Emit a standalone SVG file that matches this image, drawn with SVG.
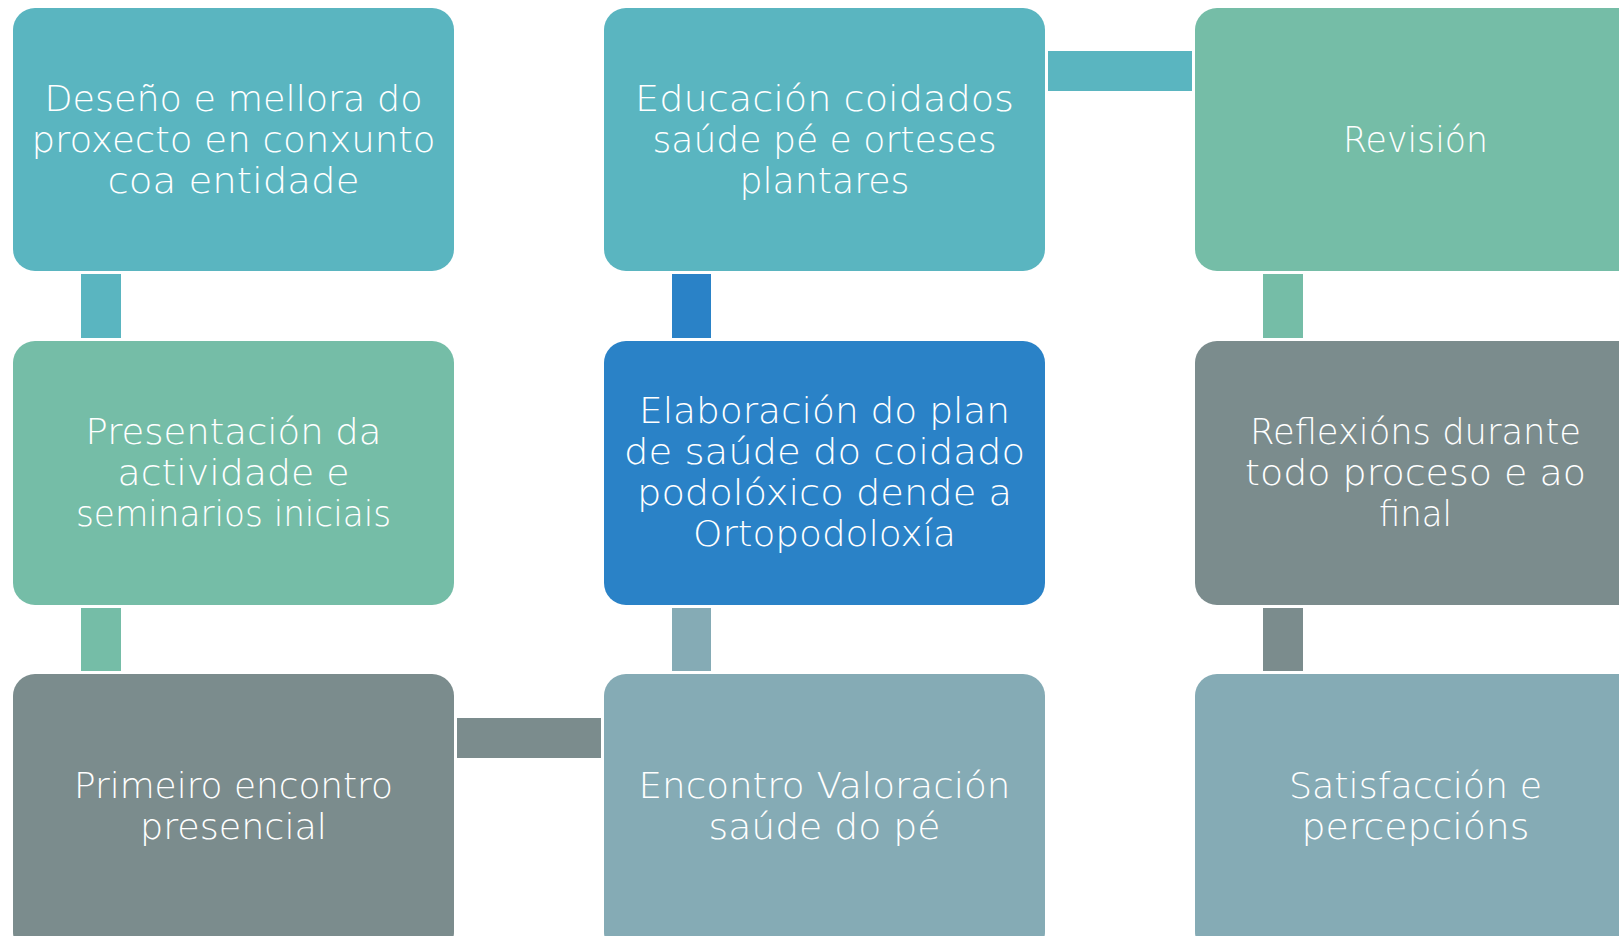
<svg xmlns="http://www.w3.org/2000/svg" width="1619" height="936" viewBox="0 0 1619 936">
<style>
.box{stroke:none}
.t{font-family:"DejaVu Sans","Liberation Sans",sans-serif;font-size:36px;font-weight:200;fill:#ffffff;text-anchor:middle}
.teal{fill:#5AB5C0}
.green{fill:#75BDA7}
.gray{fill:#7B8C8D}
.blue{fill:#2A82C7}
.steel{fill:#85ABB5}
</style>
<rect width="1619" height="936" fill="#ffffff"/>
<g id="connectors">
<rect class="teal" x="81" y="274" width="40" height="64"/>
<rect class="green" x="81" y="608" width="40" height="63"/>
<rect class="gray" x="457" y="718" width="144" height="40"/>
<rect class="steel" x="672" y="608" width="39" height="63"/>
<rect class="blue" x="672" y="274" width="39" height="64"/>
<rect class="teal" x="1048" y="51" width="144" height="40"/>
<rect class="green" x="1263" y="274" width="40" height="64"/>
<rect class="gray" x="1263" y="608" width="40" height="63"/>
</g>
<g id="n1">
<rect class="box teal" x="13" y="8" width="441" height="263" rx="22"/>
<text class="t" lengthAdjust="spacingAndGlyphs"><tspan x="233.5" y="111" textLength="378" lengthAdjust="spacingAndGlyphs">Deseño e mellora do</tspan><tspan x="233.5" y="152" textLength="404" lengthAdjust="spacingAndGlyphs">proxecto en conxunto</tspan><tspan x="233.5" y="193" textLength="252" lengthAdjust="spacingAndGlyphs">coa entidade</tspan></text>
</g>
<g id="n2">
<rect class="box green" x="13" y="341" width="441" height="264" rx="22"/>
<text class="t"><tspan x="233.5" y="444" textLength="296" lengthAdjust="spacingAndGlyphs">Presentación da</tspan><tspan x="233.5" y="485" textLength="232" lengthAdjust="spacingAndGlyphs">actividade e</tspan><tspan x="233.5" y="526" textLength="315" lengthAdjust="spacingAndGlyphs">seminarios iniciais</tspan></text>
</g>
<g id="n3">
<rect class="box gray" x="13" y="674" width="441" height="280" rx="22"/>
<text class="t"><tspan x="233.5" y="798" textLength="319" lengthAdjust="spacingAndGlyphs">Primeiro encontro</tspan><tspan x="233.5" y="839" textLength="187" lengthAdjust="spacingAndGlyphs">presencial</tspan></text>
</g>
<g id="n4">
<rect class="box steel" x="604" y="674" width="441" height="280" rx="22"/>
<text class="t"><tspan x="824.5" y="798" textLength="372" lengthAdjust="spacingAndGlyphs">Encontro Valoración</tspan><tspan x="824.5" y="839" textLength="232" lengthAdjust="spacingAndGlyphs">saúde do pé</tspan></text>
</g>
<g id="n5">
<rect class="box blue" x="604" y="341" width="441" height="264" rx="22"/>
<text class="t"><tspan x="824.5" y="423" textLength="371" lengthAdjust="spacingAndGlyphs">Elaboración do plan</tspan><tspan x="824.5" y="464" textLength="401" lengthAdjust="spacingAndGlyphs">de saúde do coidado</tspan><tspan x="824.5" y="505" textLength="375" lengthAdjust="spacingAndGlyphs">podolóxico dende a</tspan><tspan x="824.5" y="546" textLength="263" lengthAdjust="spacingAndGlyphs">Ortopodoloxía</tspan></text>
</g>
<g id="n6">
<rect class="box teal" x="604" y="8" width="441" height="263" rx="22"/>
<text class="t"><tspan x="824.5" y="111" textLength="379" lengthAdjust="spacingAndGlyphs">Educación coidados</tspan><tspan x="824.5" y="152" textLength="344" lengthAdjust="spacingAndGlyphs">saúde pé e orteses</tspan><tspan x="824.5" y="193" textLength="170" lengthAdjust="spacingAndGlyphs">plantares</tspan></text>
</g>
<g id="n7">
<rect class="box green" x="1195" y="8" width="460" height="263" rx="22"/>
<text class="t"><tspan x="1415.5" y="152" textLength="145" lengthAdjust="spacingAndGlyphs">Revisión</tspan></text>
</g>
<g id="n8">
<rect class="box gray" x="1195" y="341" width="460" height="264" rx="22"/>
<text class="t"><tspan x="1415.5" y="444" textLength="331" lengthAdjust="spacingAndGlyphs">Reflexións durante</tspan><tspan x="1415.5" y="485" textLength="341" lengthAdjust="spacingAndGlyphs">todo proceso e ao</tspan><tspan x="1415.5" y="526" textLength="73" lengthAdjust="spacingAndGlyphs">final</tspan></text>
</g>
<g id="n9">
<rect class="box steel" x="1195" y="674" width="460" height="280" rx="22"/>
<text class="t"><tspan x="1415.5" y="798" textLength="253" lengthAdjust="spacingAndGlyphs">Satisfacción e</tspan><tspan x="1415.5" y="839" textLength="228" lengthAdjust="spacingAndGlyphs">percepcións</tspan></text>
</g>
</svg>
